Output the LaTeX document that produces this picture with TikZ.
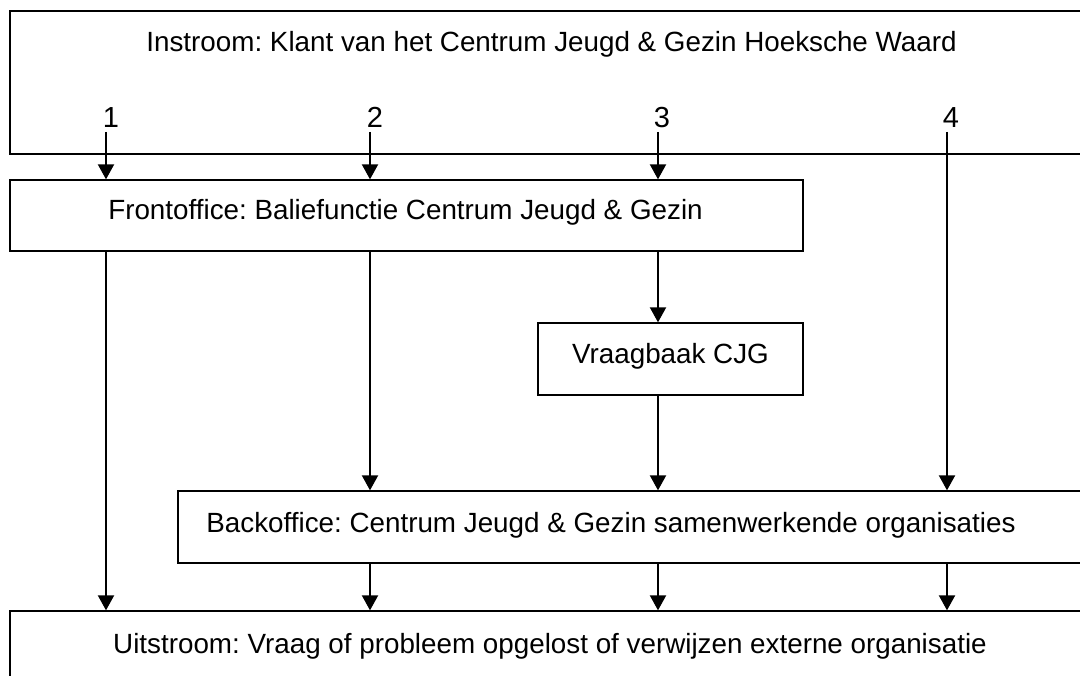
\documentclass[tikz,border=0pt]{standalone}
\usepackage{fontspec}
\setmainfont{Liberation Sans}
\usetikzlibrary{arrows.meta}
\frenchspacing
\begin{document}
\begin{tikzpicture}[x=1pt,y=-1pt,
  box/.style={draw=black,line width=1.3pt,rectangle,inner sep=0pt},
  txt/.style={anchor=base,inner sep=0pt,font=\fontsize{27.8}{30}\selectfont},
  num/.style={anchor=base,inner sep=0pt,font=\fontsize{29}{30}\selectfont},
  flow/.style={line width=2pt,-{Triangle[width=16pt,length=15pt]}}]
\useasboundingbox (0,0) rectangle (1080,676);
\clip (0,0) rectangle (1080,676);
% boxes
\node[box,minimum width=1090pt,minimum height=143pt] (in) at (555,82.5) {};
\node[box,minimum width=793pt,minimum height=71pt] (front) at (406.5,215.5) {};
\node[box,minimum width=265pt,minimum height=72pt] (vraag) at (670.5,359) {};
\node[box,minimum width=912pt,minimum height=72pt] (back) at (634,527) {};
\node[box,minimum width=1090pt,minimum height=120pt] (out) at (555,671) {};
% texts
\node[txt] (intxt) at (551.5,52) {Instroom: Klant van het Centrum Jeugd \& Gezin Hoeksche Waard};
\node[txt] (fronttxt) at (405.5,220) {Frontoffice: Baliefunctie Centrum Jeugd \& Gezin};
\node[txt] (vraagtxt) at (670.5,364) {Vraagbaak CJG};
\node[txt] (backtxt) at (611,532) {Backoffice: Centrum Jeugd \& Gezin samenwerkende organisaties};
\node[txt] (outtxt) at (550,653) {Uitstroom: Vraag of probleem opgelost of verwijzen externe organisatie};
% start points and numbers
\coordinate (s1) at (106,132);
\coordinate (s2) at (370,132);
\coordinate (s3) at (658,132);
\coordinate (s4) at (947,132);
\node[num] (n1) at (111,128) {1};
\node[num] (n2) at (375,128) {2};
\node[num] (n3) at (662,128) {3};
\node[num] (n4) at (951,128) {4};
% route 1
\draw[flow] (s1) -- (s1 |- front.north);
\draw[flow] (s1 |- front.south) -- (s1 |- out.north);
% route 2
\draw[flow] (s2) -- (s2 |- front.north);
\draw[flow] (s2 |- front.south) -- (s2 |- back.north);
\draw[flow] (s2 |- back.south) -- (s2 |- out.north);
% route 3
\draw[flow] (s3) -- (s3 |- front.north);
\draw[flow] (s3 |- front.south) -- (s3 |- vraag.north);
\draw[flow] (s3 |- vraag.south) -- (s3 |- back.north);
\draw[flow] (s3 |- back.south) -- (s3 |- out.north);
% route 4
\draw[flow] (s4) -- (s4 |- back.north);
\draw[flow] (s4 |- back.south) -- (s4 |- out.north);
\end{tikzpicture}
\end{document}
